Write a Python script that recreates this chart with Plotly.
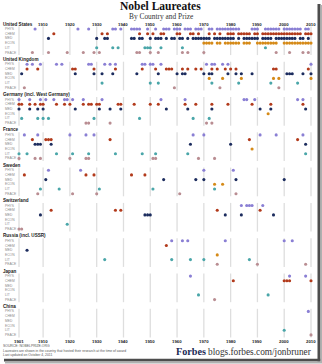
import plotly.graph_objects as go

# ---------------- award years, by country and prize ----------------
us_phys = [1907, 1923, 1927, 1936, 1937, 1939, 1943, 1944, 1945, 1946, 1949, 1952, 1955, 1956,
           1957, 1959, 1960, 1961, 1963, 1964, 1965, 1967, 1968, 1969, 1972, 1973, 1975, 1976,
           1977, 1978, 1979, 1980, 1981, 1982, 1983, 1988, 1989, 1990, 1993, 1994, 1995, 1996,
           1997, 1998, 2000, 2001, 2002, 2003, 2004, 2005, 2006, 2008, 2009]
us_chem = [1914, 1932, 1934, 1946, 1949, 1951, 1954, 1955, 1960, 1961, 1965, 1966, 1968, 1972,
           1974, 1976, 1979, 1980, 1981, 1983, 1984, 1985, 1986, 1987, 1989, 1990, 1992, 1993,
           1994, 1995, 1996, 1997, 1998, 1999, 2000, 2001, 2002, 2003, 2004, 2005, 2006, 2008,
           2009, 2010]
us_med = [1912, 1930, 1933, 1934, 1943, 1944, 1946, 1947, 1950, 1952, 1953, 1954, 1956, 1958,
          1959, 1961, 1962, 1964, 1966, 1967, 1968, 1969, 1970, 1971, 1972, 1974, 1975, 1976,
          1977, 1978, 1979, 1980, 1981, 1983, 1985, 1986, 1987, 1988, 1989, 1990, 1992, 1993,
          1994, 1995, 1997, 1998, 1999, 2000, 2001, 2002, 2003, 2004, 2006, 2007, 2009]
us_econ = [1970, 1971, 1972, 1973, 1975, 1976, 1978, 1979, 1980, 1981, 1982, 1983, 1985, 1986,
           1987, 1990, 1991, 1992, 1993, 1994, 1995, 1996, 1997, 2000, 2001, 2002, 2003, 2004,
           2005, 2006, 2007, 2008, 2009, 2010]
us_lit = [1930, 1936, 1938, 1948, 1949, 1950, 1954, 1962, 1993]
us_peace = [1906, 1912, 1919, 1925, 1929, 1931, 1945, 1946, 1950, 1953, 1962, 1964, 1970,
            1997, 2002, 2007, 2009]

uk_phys = [1904, 1906, 1909, 1915, 1917, 1927, 1928, 1933, 1935, 1937, 1947, 1948, 1950, 1951,
           1954, 1971, 1973, 1974, 1977, 1979, 2010]
uk_chem = [1904, 1908, 1921, 1922, 1929, 1937, 1947, 1952, 1956, 1957, 1958, 1962, 1964, 1967,
           1969, 1973, 1975, 1978, 1980, 1982, 1996, 1997, 2009]
uk_med = [1902, 1922, 1929, 1932, 1936, 1945, 1953, 1960, 1962, 1963, 1970, 1972, 1973, 1979,
          1982, 1984, 1988, 2001, 2002, 2003, 2007, 2010]
uk_econ = [1972, 1977, 1984, 1996, 1998, 2010]
uk_lit = [1932, 1950, 1953, 1973, 1983, 1995, 2005]
uk_peace = [1903, 1959, 1976, 1998]

de_phys = [1901, 1905, 1909, 1911, 1914, 1918, 1919, 1921, 1925, 1932, 1954, 1963, 1985, 1986,
           1989, 2005, 2007]
de_chem = [1901, 1902, 1905, 1907, 1909, 1910, 1915, 1918, 1920, 1925, 1927, 1928, 1930, 1931,
           1938, 1939, 1944, 1950, 1953, 1963, 1967, 1973, 1979, 1988, 1995, 2007]
de_med = [1901, 1905, 1908, 1910, 1922, 1931, 1935, 1939, 1956, 1964, 1973, 1991, 1995, 2008]
de_econ = [1994]
de_lit = [1902, 1908, 1910, 1912, 1929, 1946, 1966, 1972]
de_peace = [1926, 1927, 1935, 1971, 1973]

fr_phys = [1903, 1908, 1920, 1926, 1929, 1966, 1970, 1991, 1997, 2007]
fr_chem = [1906, 1911, 1912, 1913, 1935, 1987, 2005]
fr_med = [1907, 1908, 1909, 1913, 1965, 1980, 2008]
fr_econ = [1988]
fr_lit = [1901, 1904, 1915, 1921, 1927, 1937, 1947, 1952, 1964, 2008]
fr_peace = [1901, 1907, 1909, 1920, 1926, 1927, 1951, 1952, 1968, 1974]

se_phys = [1912, 1924, 1970, 1981]
se_chem = [1903, 1926, 1929, 1943, 1948]
se_med = [1911, 1955, 1967, 1970, 1982, 2000]
se_econ = [1974, 1977]
se_lit = [1909, 1916, 1931, 1951, 1974]
se_peace = [1908, 1921, 1930, 1961, 1982]

ch_phys = [1984, 1986, 1987, 1988, 1992]
ch_chem = [1913, 1937, 1939, 1975, 1991]
ch_med = [1909, 1948, 1949, 1950, 1978, 1984, 1996]
ch_econ = []
ch_lit = [1919]
ch_peace = [1901, 1902]

ru_phys = [1958, 1962, 1964, 1978, 2000, 2003]
ru_chem = [1956]
ru_med = [1904]
ru_econ = [1975]
ru_lit = [1933, 1958, 1965, 1970, 1987]
ru_peace = [1975, 1990, 2008]

jp_phys = [1965, 2002, 2008]
jp_chem = [1981, 2000, 2001, 2002, 2010]
jp_med = []
jp_econ = []
jp_lit = [1968, 1994]
jp_peace = [1974]

cn_phys = [2009]
cn_chem = []
cn_med = []
cn_econ = []
cn_lit = [2000]
cn_peace = [2010]

countries = ["United States", "United Kingdom", "Germany (incl. West Germany)", "France",
             "Sweden", "Switzerland", "Russia (incl. USSR)", "Japan", "China"]
prizes = ["PHYS", "CHEM", "MED", "ECON", "LIT", "PEACE"]
prize_colors = ["#8a7fd4", "#b23a1b", "#1c2c5e", "#d58a18", "#4aa6a9", "#b98d92"]
top_ticks = [1910, 1920, 1930, 1940, 1950, 1960, 1970, 1980, 1990, 2000, 2010]
bottom_ticks = [1901, 1910, 1920, 1930, 1940, 1950, 1960, 1970, 1980, 1990, 2000, 2010]

table = [
    [us_phys, us_chem, us_med, us_econ, us_lit, us_peace],
    [uk_phys, uk_chem, uk_med, uk_econ, uk_lit, uk_peace],
    [de_phys, de_chem, de_med, de_econ, de_lit, de_peace],
    [fr_phys, fr_chem, fr_med, fr_econ, fr_lit, fr_peace],
    [se_phys, se_chem, se_med, se_econ, se_lit, se_peace],
    [ch_phys, ch_chem, ch_med, ch_econ, ch_lit, ch_peace],
    [ru_phys, ru_chem, ru_med, ru_econ, ru_lit, ru_peace],
    [jp_phys, jp_chem, jp_med, jp_econ, jp_lit, jp_peace],
    [cn_phys, cn_chem, cn_med, cn_econ, cn_lit, cn_peace],
]

# ---------------- geometry ----------------
W, H = 322, 364
X1901, X2010 = 19.0, 311.0
ppy = (X2010 - X1901) / (2010 - 1901)
x_range = [1901 - X1901 / ppy, 1901 + (W - X1901) / ppy]

PANEL_TOP = 24.0
PANEL_STEP = 35.3
ROW_OFFSET = 5.0
ROW_STEP = 4.7


def header_y(p):
    return PANEL_TOP + p * PANEL_STEP


def row_y(p, r):
    return header_y(p) + ROW_OFFSET + r * ROW_STEP


def px(x):
    return x / W


SANS = "Liberation Sans, Arial, sans-serif"
SERIF = "Liberation Serif, Times New Roman, serif"

fig = go.Figure()

# dots, one trace per prize
for r, (prize, color) in enumerate(zip(prizes, prize_colors)):
    xs, ys = [], []
    for p in range(len(countries)):
        for yr in table[p][r]:
            xs.append(yr)
            ys.append(row_y(p, r))
    fig.add_trace(go.Scatter(
        x=xs, y=ys, mode="markers", name=prize, showlegend=False, hoverinfo="skip",
        marker=dict(size=3.1, color=color, line=dict(width=0)),
    ))

shapes = []
annotations = []

# decade rules inside each panel
for p in range(len(countries)):
    y0 = row_y(p, 0) - 2.6
    y1 = row_y(p, 5) + 2.6
    for yr in bottom_ticks:
        shapes.append(dict(type="line", xref="x", yref="y", x0=yr, x1=yr, y0=y0, y1=y1,
                           line=dict(color="#dedede", width=1.3), layer="below"))

# country headers and row labels
for p, name in enumerate(countries):
    annotations.append(dict(
        xref="paper", yref="y", x=px(1), y=header_y(p), xanchor="left", yanchor="middle",
        text="<b>%s</b>" % name, showarrow=False,
        font=dict(family=SANS, size=4.6, color="#1a1a1a")))
    for r, prize in enumerate(prizes):
        annotations.append(dict(
            xref="paper", yref="y", x=px(2.5), y=row_y(p, r), xanchor="left", yanchor="middle",
            text=prize, showarrow=False,
            font=dict(family=SANS, size=3.3, color="#8a8a8a")))

# year labels on top of the first panel and below the last
for yr in top_ticks:
    annotations.append(dict(
        xref="x", yref="y", x=yr, y=header_y(0), xanchor="center", yanchor="middle",
        text="<b>%d</b>" % yr, showarrow=False,
        font=dict(family=SANS, size=4.3, color="#1a1a1a")))
for yr in bottom_ticks:
    annotations.append(dict(
        xref="x", yref="y", x=yr, y=341.0, xanchor="center", yanchor="middle",
        text="<b>%d</b>" % yr, showarrow=False,
        font=dict(family=SANS, size=4.3, color="#1a1a1a")))

# title block
annotations.append(dict(
    xref="paper", yref="y", x=px(160), y=6.0, xanchor="center", yanchor="middle",
    text="<b>Nobel Laureates</b>", showarrow=False,
    font=dict(family=SERIF, size=11.5, color="#111111")))
annotations.append(dict(
    xref="paper", yref="y", x=px(161), y=16.6, xanchor="center", yanchor="middle",
    text="By Country and Prize", showarrow=False,
    font=dict(family=SERIF, size=7.4, color="#333333")))

# footnotes
notes = ["SOURCE: NOBELPRIZE.ORG",
         "Laureates are shown in the country that hosted their research at the time of award",
         "Last updated on October 4, 2011"]
for i, t in enumerate(notes):
    annotations.append(dict(
        xref="paper", yref="y", x=px(1), y=346.3 + i * 4.2, xanchor="left", yanchor="middle",
        text=t, showarrow=False, font=dict(family=SANS, size=3.4, color="#555555")))

# credit line
annotations.append(dict(
    xref="paper", yref="y", x=px(174), y=351.5, xanchor="left", yanchor="middle",
    text="<b>Forbes</b>", showarrow=False,
    font=dict(family=SERIF, size=10.2, color="#1b2a55")))
annotations.append(dict(
    xref="paper", yref="y", x=px(206), y=351.8, xanchor="left", yanchor="middle",
    text="blogs.forbes.com/jonbruner", showarrow=False,
    font=dict(family=SERIF, size=9.3, color="#333333")))

# drop shadow along the right and bottom edges of the sheet
shapes.append(dict(type="rect", xref="paper", yref="paper",
                   x0=px(317.5), x1=px(320.5), y0=1 - 361.5 / H, y1=1 - 4 / H,
                   fillcolor="#4d4d4d", line=dict(width=0), layer="above"))
shapes.append(dict(type="rect", xref="paper", yref="paper",
                   x0=px(4), x1=px(320.5), y0=1 - 361.5 / H, y1=1 - 358.8 / H,
                   fillcolor="#4d4d4d", line=dict(width=0), layer="above"))
shapes.append(dict(type="rect", xref="paper", yref="paper",
                   x0=px(320.5), x1=px(322), y0=1 - 362.5 / H, y1=1 - 5 / H,
                   fillcolor="#b0b0b0", line=dict(width=0), layer="above"))
shapes.append(dict(type="rect", xref="paper", yref="paper",
                   x0=px(5), x1=px(322), y0=1 - 363.5 / H, y1=1 - 361.5 / H,
                   fillcolor="#b0b0b0", line=dict(width=0), layer="above"))

fig.update_layout(
    width=W, height=H,
    margin=dict(l=0, r=0, t=0, b=0, pad=0),
    paper_bgcolor="white", plot_bgcolor="white",
    xaxis=dict(range=x_range, visible=False, fixedrange=True),
    yaxis=dict(range=[H, 0], visible=False, fixedrange=True),
    shapes=shapes, annotations=annotations,
    showlegend=False,
)

fig.write_html("out.html")
